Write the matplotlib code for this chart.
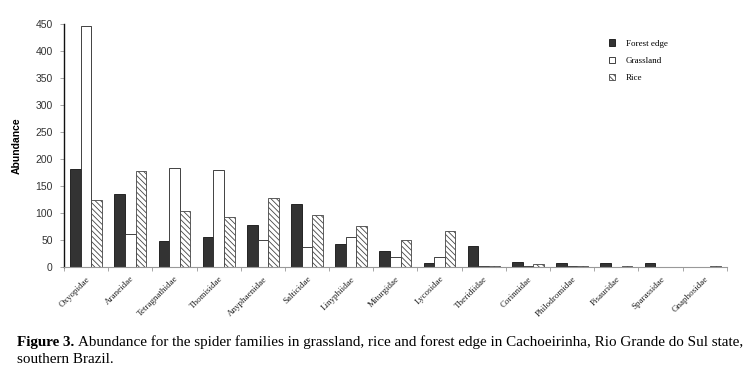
import matplotlib
matplotlib.use("Agg")
import matplotlib.pyplot as plt
import numpy as np

families = ["Oxyopidae", "Araneidae", "Tetragnathidae", "Thomisidae", "Anyphaenidae",
            "Salticidae", "Linyphiidae", "Miturgidae", "Lycosidae", "Theridiidae",
            "Corinnidae", "Philodromidae", "Pisauridae", "Sparassidae", "Gnaphosidae"]
forest_edge = [181, 135, 47, 55, 77, 117, 42, 29, 7, 38, 8, 6, 7, 6, 0]
grassland = [446, 61, 183, 180, 50, 37, 54, 18, 18, 2, 2, 1, 0, 0, 0]
rice = [124, 178, 104, 92, 127, 96, 75, 50, 66, 2, 5, 2, 1, 0, 2]
yticks = [0, 50, 100, 150, 200, 250, 300, 350, 400, 450]

plt.rcParams['hatch.linewidth'] = 0.6
fig = plt.figure(figsize=(7.5, 3.76), dpi=100)
ax = fig.add_axes([0.0853, 0.291, 0.8837, 0.645])

x = np.arange(len(families))
w = 0.24
ax.bar(x - w, forest_edge, w, color="#333333", edgecolor="#111111", linewidth=0.6, label="Forest edge")
ax.bar(x, grassland, w, color="white", edgecolor="#222222", linewidth=0.6, label="Grassland")
ax.bar(x + w, rice, w, color="white", edgecolor="#444444", linewidth=0.6, hatch="\\\\\\\\\\\\", label="Rice")

ax.set_xlim(-0.5, len(families) - 0.5)
ax.set_ylim(0, 450)
ax.set_yticks(yticks)
ax.set_yticklabels([str(t) for t in yticks], fontsize=7.5, family="Liberation Sans", color="#333333")
ax.set_xticks(x)
ax.set_xticklabels(families, rotation=45, ha="right", rotation_mode="anchor",
                   fontsize=6.5, family="Liberation Serif", color="#222222")
ax.set_xticks(np.arange(len(families) + 1) - 0.5, minor=True)
ax.tick_params(axis="x", which="major", length=0, pad=6)
ax.tick_params(axis="x", which="minor", length=3, color="#999999", width=0.6)
ax.tick_params(axis="y", length=3, width=0.6, color="#999999", pad=5)
for s in ["top", "right"]:
    ax.spines[s].set_visible(False)
ax.spines["left"].set_linewidth(1.0)
ax.spines["left"].set_color("#111111")
ax.spines["bottom"].set_color("#999999")
ax.spines["bottom"].set_linewidth(0.8)

ax.set_ylabel("Abundance", fontsize=7.5, fontweight="bold", family="Liberation Sans", labelpad=10)

leg = ax.legend(loc="upper left", bbox_to_anchor=(0.81, 0.97), frameon=False,
                prop={"family": "Liberation Serif", "size": 6.5},
                handlelength=0.7, handleheight=0.7, labelspacing=1.0, handletextpad=1.2)

fig.canvas.draw()
r = fig.canvas.get_renderer()
t1 = fig.text(0.023, 0.08, "Figure 3.", fontsize=10.9, fontweight="bold", family="Liberation Serif")
bb = t1.get_window_extent(renderer=r)
fig.text(bb.x1 / fig.bbox.width + 0.004, 0.08,
         "Abundance for the spider families in grassland, rice and forest edge in Cachoeirinha, Rio Grande do Sul state,",
         fontsize=10.9, family="Liberation Serif")
fig.text(0.023, 0.035, "southern Brazil.", fontsize=10.9, family="Liberation Serif")

fig.savefig("out.png", dpi=100)
